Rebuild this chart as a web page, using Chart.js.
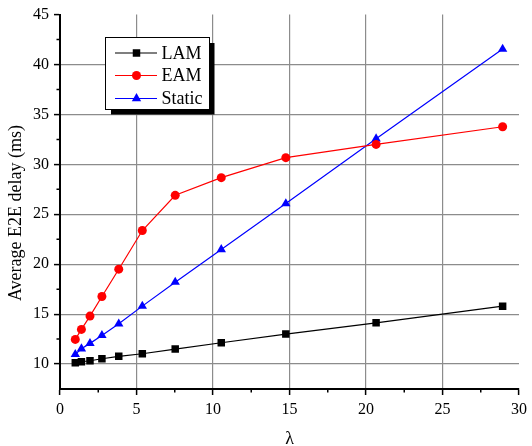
<!DOCTYPE html>
<html><head><meta charset="utf-8">
<script src="https://cdn.jsdelivr.net/npm/chart.js@4/dist/chart.umd.min.js"></script>
<style>html,body{margin:0;padding:0;background:#fff}canvas{display:block}</style>
</head><body>
<canvas id="c" width="532" height="446"></canvas>
<script>
// values
const lambdas=[1,1.4,1.96,2.74,3.84,5.38,7.53,10.54,14.76,20.66,28.93];
const lamDelay=[10.13,10.23,10.33,10.53,10.77,11.03,11.5,12.13,13.0,14.13,15.8];
const eamDelay=[12.47,13.47,14.8,16.77,19.5,23.37,26.9,28.67,30.67,32.0,33.77];
const staticDelay=[10.97,11.53,12.07,12.87,14.03,15.8,18.2,21.47,26.07,32.57,41.55];
const seriesNames=["LAM","EAM","Static"];
const xTicks=[0,5,10,15,20,25,30];
const yTicks=[10,15,20,25,30,35,40,45];
const xMinor=[2.5,7.5,12.5,17.5,22.5,27.5];
const yMinor=[12.5,17.5,22.5,27.5,32.5,37.5,42.5];
const xTitle="λ", yTitle="Average E2E delay (ms)";

const FONT='"Liberation Serif","Times New Roman",serif';
const gridCol='#8c8c8c';
const pts=(ys)=>ys.map((v,i)=>({x:lambdas[i],y:v}));

function ds(label,data,color,style,r){
  return {label,data:pts(data),borderColor:color,backgroundColor:color,borderWidth:1.2,
    pointStyle:style,pointRadius:r,pointHoverRadius:r,pointBorderWidth:0,tension:0,showLine:true};
}

const extras={id:'extras',
  afterDraw(chart){
    const {ctx,chartArea:a,scales:{x,y}}=chart;
    ctx.save();
    // minor ticks
    ctx.strokeStyle='#000'; ctx.lineWidth=1.5; ctx.beginPath();
    xMinor.forEach(v=>{const px=x.getPixelForValue(v); ctx.moveTo(px,a.bottom); ctx.lineTo(px,a.bottom+3.5);});
    yMinor.forEach(v=>{const py=y.getPixelForValue(v); ctx.moveTo(a.left,py); ctx.lineTo(a.left-3.5,py);});
    ctx.stroke();
    // axis titles
    ctx.fillStyle='#000'; ctx.font='18px '+FONT; ctx.textAlign='center'; ctx.textBaseline='middle';
    ctx.fillText(xTitle,(a.left+a.right)/2,439);
    ctx.save(); ctx.translate(16,213); ctx.rotate(-Math.PI/2); ctx.fillText(yTitle,0,0); ctx.restore();
    // legend box with shadow
    ctx.fillStyle='#000'; ctx.fillRect(111,43,103.5,71.5);
    ctx.fillStyle='#fff'; ctx.fillRect(105.5,37.5,104,72);
    ctx.strokeStyle='#000'; ctx.lineWidth=1; ctx.strokeRect(105.5,37.5,104,72);
    const rows=[53,75.5,98.5];
    chart.data.datasets.forEach((d,i)=>{
      const ry=rows[i];
      ctx.strokeStyle=d.borderColor; ctx.lineWidth=1.2;
      ctx.beginPath(); ctx.moveTo(115,ry); ctx.lineTo(157,ry); ctx.stroke();
      ctx.fillStyle=d.backgroundColor;
      Chart.helpers.drawPoint(ctx,{pointStyle:d.pointStyle,radius:d.pointRadius,rotation:0,borderWidth:0},136.5,ry);
      ctx.fillStyle='#000'; ctx.font='18px '+FONT; ctx.textAlign='left'; ctx.textBaseline='middle';
      ctx.fillText(d.label,161.5,ry+1);
    });
    ctx.restore();
  }
};

new Chart(document.getElementById('c'),{
  type:'scatter',
  data:{datasets:[
    ds(seriesNames[0],lamDelay,'#000000','rect',5.3),
    ds(seriesNames[1],eamDelay,'#ff0000','circle',4.5),
    ds(seriesNames[2],staticDelay,'#0000ff','triangle',5.4)
  ]},
  options:{
    responsive:false,animation:false,devicePixelRatio:1,
    layout:{padding:{left:0,right:10,top:14,bottom:0}},
    plugins:{legend:{display:false},tooltip:{enabled:false}},
    scales:{
      x:{type:'linear',min:0,max:30,
        afterBuildTicks:s=>{s.ticks=xTicks.map(v=>({value:v}));},
        afterFit:s=>{s.height=57;},
        ticks:{color:'#000',font:{family:FONT,size:16},padding:5,maxRotation:0},
        grid:{color:c=>(c.tick&&c.tick.value>0&&c.tick.value<30)?gridCol:'rgba(0,0,0,0)',
          lineWidth:1.2,tickColor:'#000',tickLength:6,tickWidth:1.5},
        border:{color:'#000',width:2}},
      y:{type:'linear',min:7.5,max:45,
        afterBuildTicks:s=>{s.ticks=yTicks.map(v=>({value:v}));},
        afterFit:s=>{s.width=60;},
        ticks:{color:'#000',font:{family:FONT,size:16},padding:5},
        grid:{color:c=>(c.tick&&c.tick.value<45)?gridCol:'rgba(0,0,0,0)',
          lineWidth:1.2,tickColor:'#000',tickLength:6,tickWidth:1.5},
        border:{color:'#000',width:2}}
    }
  },
  plugins:[extras]
});
</script>
</body></html>
